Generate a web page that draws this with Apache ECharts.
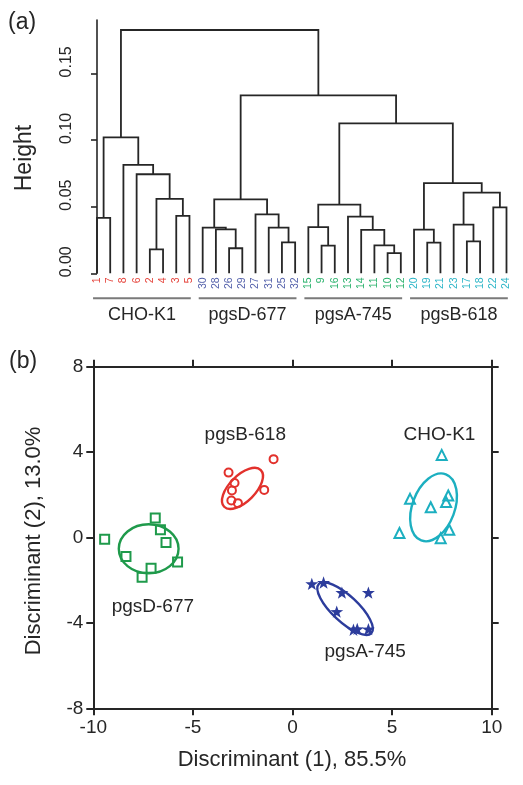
<!DOCTYPE html>
<html><head><meta charset="utf-8">
<script src="https://cdn.jsdelivr.net/npm/echarts@6/dist/echarts.min.js"></script>
<style>html,body{margin:0;padding:0;background:#fff;}#c{width:523px;height:785px;}</style>
</head><body><div id="c"></div>
<script>
// ---------------- DATA ----------------
// (a) dendrogram
const leafOrder = [1,7,8,6,2,4,3,5,30,28,26,29,27,31,25,32,15,9,16,13,14,11,10,12,20,19,21,23,17,18,22,24];
// hclust-style merges: negative = leaf id, positive = earlier merge (1-based)
const mergeLeft   = [-2,-10,-9,-26,-11,-19,-25,-17,-28,-14,-20,-30,-31,-15,-23,-1,-3,-13,-27,-22,14,12,1,15,11,-6,-8,16,21,22,28];
const mergeRight  = [-4,-12,-16,-29,2,-21,-32,-18,4,5,6,9,7,3,8,-7,-5,10,13,-24,18,19,17,20,24,23,26,27,25,29,30];
const mergeHeight = [0.018,0.0152,0.0207,0.0188,0.021,0.023,0.0232,0.024,0.033,0.0325,0.0327,0.0343,0.0342,0.0347,0.0365,
                     0.0415,0.043,0.0425,0.0442,0.0495,0.0515,0.0555,0.0558,0.0605,0.0677,0.0743,0.0813,0.102,0.1125,0.1335,0.1825];
const groupNames = ['CHO-K1','pgsD-677','pgsA-745','pgsB-618'];
const groupFirst = [0,8,16,24];
const groupLast  = [7,15,23,31];
const heightTicks = [0,0.05,0.10,0.15];

// (b) discriminant scores
const pgsD677 = [[-9.43,-0.08],[-8.36,-0.89],[-7.55,-1.86],[-7.10,-1.44],[-6.89,0.91],[-6.63,0.36],[-6.35,-0.23],[-5.77,-1.15]];
const pgsB618 = [[-3.21,3.04],[-2.91,2.55],[-3.04,2.20],[-3.07,1.73],[-2.74,1.61],[-1.42,2.23],[-0.95,3.67]];
const pgsA745 = [[0.97,-2.17],[1.56,-2.11],[2.48,-2.58],[3.81,-2.58],[2.22,-3.47],[3.06,-4.32],[3.25,-4.28],[3.81,-4.29]];
const choK1   = [[7.49,3.87],[5.90,1.81],[7.82,1.97],[7.71,1.66],[6.94,1.42],[5.37,0.21],[7.87,0.36],[7.44,-0.03]];
// ellipses: [centerX, centerY, majorAxisOffsetX, majorAxisOffsetY, minor/major ratio]
const ellD = [-7.22,-0.53,1.50,0.00,0.82];
const ellB = [-2.51,2.30,0.92,0.86,0.50];
const ellA = [2.64,-3.33,1.32,-1.15,0.36];
const ellC = [7.08,1.41,0.62,1.55,0.60];
const groupLabelPos = [[-2.37,4.81,'pgsB-618'],[7.38,4.81,'CHO-K1'],[-7.01,-3.23,'pgsD-677'],[3.65,-5.34,'pgsA-745']];
const xTicksB = [-10,-5,0,5,10];
const yTicksB = [-8,-4,0,4,8];

// ---------------- BUILD ----------------
const FONT = '"Liberation Sans", Arial, Helvetica, sans-serif';
const leafColors = ['#e5423a','#5461ab','#2ab26c','#2bb5c7'];
const dark = '#262626';

const leafPos = {};
leafOrder.forEach((n, i) => { leafPos[n] = i; });
const nodeX = [], nodeH = [], segs = [];
for (let k = 0; k < mergeLeft.length; k++) {
  const a = mergeLeft[k], b = mergeRight[k];
  const xa = a < 0 ? leafPos[-a] : nodeX[a - 1], ha = a < 0 ? 0 : nodeH[a - 1];
  const xb = b < 0 ? leafPos[-b] : nodeX[b - 1], hb = b < 0 ? 0 : nodeH[b - 1];
  nodeX[k] = (xa + xb) / 2; nodeH[k] = mergeHeight[k];
  segs.push([xa, ha, xb, hb, mergeHeight[k]]);
}
const leafData = leafOrder.map((n, i) => [i, 0, n, Math.floor(i / 8)]);
const groupData = groupNames.map((g, j) => [groupFirst[j] - 0.3, groupLast[j] + 0.1, j]);

function ellipseSeries(e, color) {
  return {
    type: 'custom', xAxisIndex: 1, yAxisIndex: 1, clip: false, silent: true,
    data: [e], z: 2,
    renderItem: function (params, api) {
      const c = api.coord([api.value(0), api.value(1)]);
      const p = api.coord([api.value(0) + api.value(2), api.value(1) + api.value(3)]);
      const dx = p[0] - c[0], dy = p[1] - c[1];
      const rx = Math.hypot(dx, dy);
      return {
        type: 'ellipse', x: c[0], y: c[1], rotation: Math.atan2(-dy, dx),
        shape: { cx: 0, cy: 0, rx: rx, ry: rx * api.value(4) },
        style: { fill: 'none', stroke: color, lineWidth: 2.4 }
      };
    }
  };
}
function scatterSeries(data, symbol, size, color, filled) {
  return {
    type: 'scatter', xAxisIndex: 1, yAxisIndex: 1, data: data, symbol: symbol, symbolSize: size,
    symbolKeepAspect: true, z: 3,
    itemStyle: filled ? { color: color, opacity: 1 } : { color: 'rgba(255,255,255,0)', borderColor: color, borderWidth: 2, opacity: 1 }
  };
}
const starPath = 'path://M0,-10 L2.35,-3.24 L9.51,-3.09 L3.8,1.24 L5.88,8.09 L0,4 L-5.88,8.09 L-3.8,1.24 L-9.51,-3.09 L-2.35,-3.24 Z';

const axisB = {
  axisLine: { show: true, onZero: false, lineStyle: { color: dark, width: 2 } },
  axisTick: { show: true, inside: false, length: 7, lineStyle: { color: dark, width: 2 } },
  splitLine: { show: false }
};

const option = {
  backgroundColor: '#fff',
  animation: false,
  grid: [
    { left: 83, top: 20, width: 437.5, height: 253.3 },
    { left: 93.3, top: 366.7, width: 398.4, height: 341.6 }
  ],
  xAxis: [
    { gridIndex: 0, type: 'value', min: -1.06, max: 32.06, show: false },
    Object.assign({ gridIndex: 1, type: 'value', min: -10, max: 10, interval: 5, position: 'bottom',
      axisLabel: { fontFamily: FONT, fontSize: 19, color: dark, margin: 10 } }, axisB),
    Object.assign({ gridIndex: 1, type: 'value', min: -10, max: 10, interval: 5, position: 'top',
      axisLabel: { show: false } }, axisB)
  ],
  yAxis: [
    { gridIndex: 0, type: 'value', min: 0, max: 0.19, interval: 0.05,
      axisLine: { show: true, lineStyle: { color: dark, width: 1.6 } },
      axisTick: { show: true, length: 6, customValues: heightTicks, lineStyle: { color: dark, width: 1.6 } },
      axisLabel: { customValues: heightTicks, rotate: 90, fontFamily: FONT, fontSize: 16, color: dark, margin: 8,
        padding: [0, 0, 0, 23], formatter: v => v.toFixed(2) },
      splitLine: { show: false } },
    Object.assign({ gridIndex: 1, type: 'value', min: -8, max: 8, interval: 4, position: 'left',
      axisLabel: { fontFamily: FONT, fontSize: 19, color: dark, margin: 10 } }, axisB),
    Object.assign({ gridIndex: 1, type: 'value', min: -8, max: 8, interval: 4, position: 'right',
      axisLabel: { show: false } }, axisB)
  ],
  graphic: [
    { type: 'text', left: 8, top: 11, style: { text: '(a)', font: '23px ' + FONT, fill: dark } },
    { type: 'text', left: 9, top: 350, style: { text: '(b)', font: '23px ' + FONT, fill: dark } },
    { type: 'text', x: 25, y: 158, rotation: Math.PI / 2,
      style: { text: 'Height', font: '23px ' + FONT, fill: dark, align: 'center', verticalAlign: 'middle' } },
    { type: 'text', x: 292, y: 760,
      style: { text: 'Discriminant (1), 85.5%', font: '22px ' + FONT, fill: dark, align: 'center', verticalAlign: 'middle' } },
    { type: 'text', x: 34, y: 541, rotation: Math.PI / 2,
      style: { text: 'Discriminant (2), 13.0%', font: '22px ' + FONT, fill: dark, align: 'center', verticalAlign: 'middle' } }
  ],
  series: [
    { type: 'custom', xAxisIndex: 0, yAxisIndex: 0, clip: false, silent: true, data: segs,
      renderItem: function (params, api) {
        const p1 = api.coord([api.value(0), api.value(1)]);
        const p2 = api.coord([api.value(0), api.value(4)]);
        const p3 = api.coord([api.value(2), api.value(4)]);
        const p4 = api.coord([api.value(2), api.value(3)]);
        return { type: 'polyline', shape: { points: [p1, p2, p3, p4] },
          style: { fill: 'none', stroke: dark, lineWidth: 1.8 } };
      } },
    { type: 'custom', xAxisIndex: 0, yAxisIndex: 0, clip: false, silent: true, data: leafData,
      renderItem: function (params, api) {
        const p = api.coord([api.value(0), 0]);
        return { type: 'text', x: p[0], y: p[1] + 4, rotation: Math.PI / 2,
          style: { text: String(api.value(2)), font: '10.5px ' + FONT, fill: leafColors[api.value(3)],
            align: 'right', verticalAlign: 'middle' } };
      } },
    { type: 'custom', xAxisIndex: 0, yAxisIndex: 0, clip: false, silent: true, data: groupData,
      renderItem: function (params, api) {
        const a = api.coord([api.value(0), 0]);
        const b = api.coord([api.value(1), 0]);
        const j = api.value(2);
        return { type: 'group', children: [
          { type: 'line', shape: { x1: a[0], y1: a[1] + 25, x2: b[0], y2: a[1] + 25 },
            style: { stroke: '#7a7a7a', lineWidth: 2 } },
          { type: 'text', x: (a[0] + b[0]) / 2, y: a[1] + 42,
            style: { text: groupNames[j], font: '18px ' + FONT, fill: dark, align: 'center', verticalAlign: 'middle' } }
        ] };
      } },
    ellipseSeries(ellD, '#1f9a4b'),
    ellipseSeries(ellB, '#e2312c'),
    ellipseSeries(ellA, '#2c3c9c'),
    ellipseSeries(ellC, '#1cafc0'),
    scatterSeries(pgsD677, 'rect', 9, '#1f9a4b', false),
    scatterSeries(pgsB618, 'circle', 8, '#e2312c', false),
    scatterSeries(pgsA745, starPath, 13, '#2c3c9c', true),
    scatterSeries(choK1, 'triangle', 10, '#1cafc0', false),
    { type: 'custom', xAxisIndex: 1, yAxisIndex: 1, clip: false, silent: true, data: groupLabelPos,
      renderItem: function (params, api) {
        const p = api.coord([api.value(0), api.value(1)]);
        return { type: 'text', x: p[0], y: p[1],
          style: { text: groupLabelPos[params.dataIndex][2], font: '19px ' + FONT, fill: dark,
            align: 'center', verticalAlign: 'middle' } };
      } }
  ]
};
const chart = echarts.init(document.getElementById('c'), null, { renderer: 'canvas' });
chart.setOption(option);
</script>
</body></html>
